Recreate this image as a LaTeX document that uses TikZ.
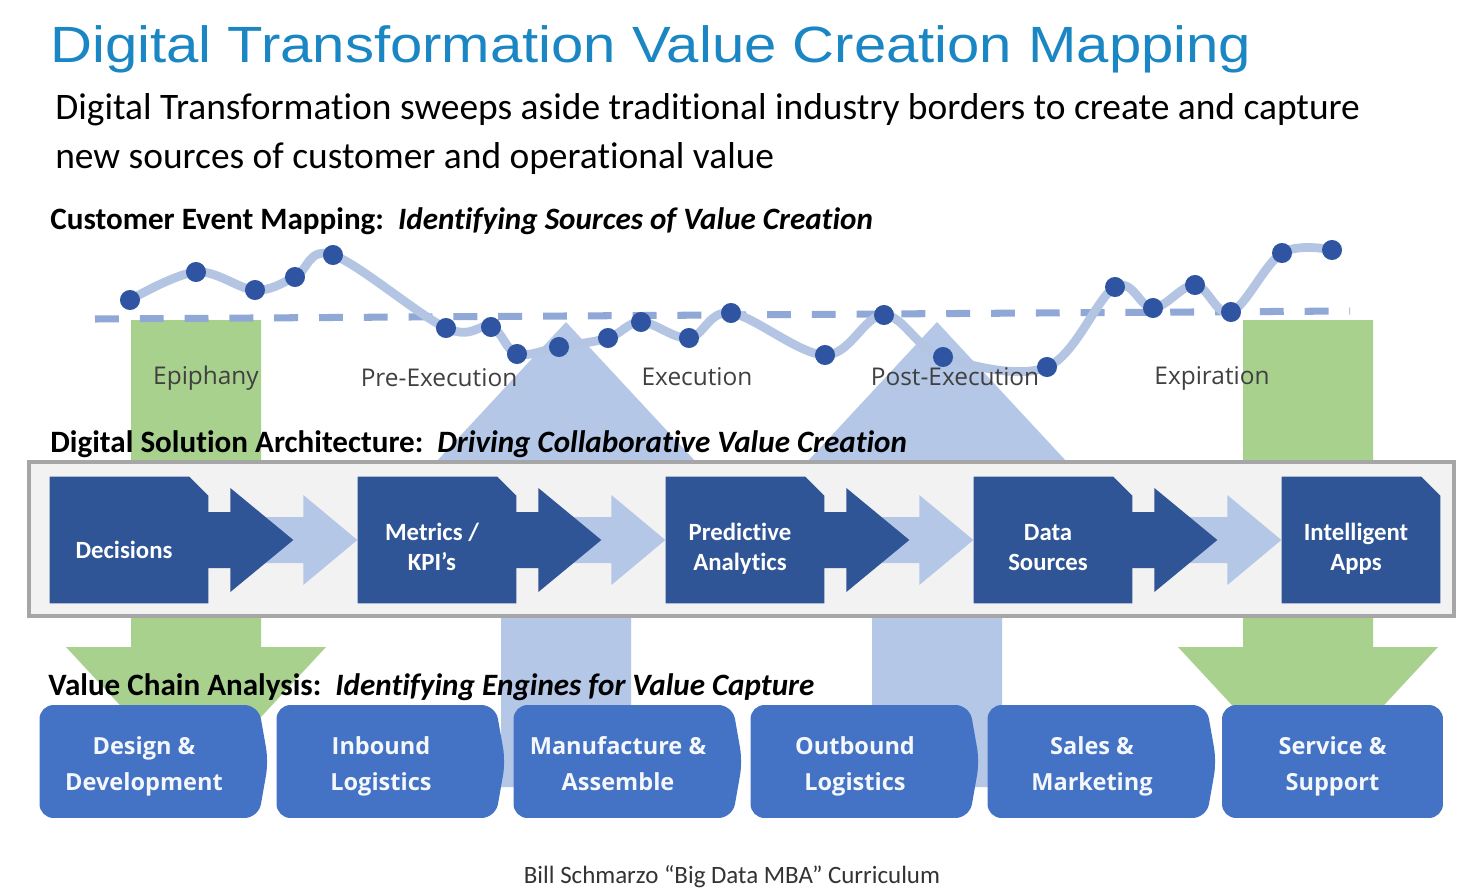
\documentclass[tikz,border=0pt]{standalone}
\usepackage{fontspec}
\setmainfont{Carlito}[Ligatures=CommonOff]
\newfontfamily\titlefont[FakeStretch=1.14]{Liberation Sans}
\newfontfamily\stagefont{Open Sans}
\usetikzlibrary{shapes.symbols}

\definecolor{titleblue}{HTML}{1A87C4}
\definecolor{dotblue}{HTML}{2F55A2}
\definecolor{curveblue}{HTML}{B4C5E4}
\definecolor{dashblue}{HTML}{8FA8D6}
\definecolor{arrowgreen}{HTML}{A9D18E}
\definecolor{arrowblue}{HTML}{B4C7E7}
\definecolor{solblue}{HTML}{2F5597}
\definecolor{chainblue}{HTML}{4472C4}
\definecolor{framegray}{HTML}{A6A6A6}
\definecolor{framefill}{HTML}{F2F2F2}
\definecolor{labelgray}{HTML}{404040}

\tikzset{
  solbox/.style={rectangle, inner sep=0pt, minimum width=3.16cm, minimum height=2.52cm},
  soltext/.style={text=white, align=center, inner sep=0pt,
    font=\bfseries\fontsize{14.1}{17}\selectfont},
  chainbox/.style={signal, signal to=east, signal pointer angle=160,
    rounded corners=8pt, fill=chainblue, inner sep=0pt,
    minimum width=4.58cm, minimum height=2.26cm},
  chaintext/.style={text=white!94!chainblue, align=center, inner sep=0pt,
    font=\stagefont\bfseries\fontsize{13.4}{20.4}\selectfont},
  stagelabel/.style={text=labelgray, font=\stagefont\fontsize{13.9}{16}\selectfont},
  header/.style={anchor=base west, inner sep=0pt, font=\bfseries\fontsize{17.7}{20}\selectfont},
  dot/.style={fill=dotblue, draw=none}
}

\begin{document}
\begin{tikzpicture}[x=0.02cm, y=-0.02cm]
    \fill[white] (0,0) rectangle (1477,892);
    \useasboundingbox (0,0) rectangle (1477,892);

    % Title and subtitle
    \node[anchor=base west, inner sep=0pt, text=titleblue, font=\titlefont\fontsize{29}{34}\selectfont]
        (title) at (50,63) {Digital Transformation Value Creation Mapping};
    \node[anchor=base west, inner sep=0pt, align=left, font=\fontsize{21.3}{27.8}\selectfont]
        (subtitle) at (55,168) {Digital Transformation sweeps aside traditional industry borders to create and capture\\new sources of customer and operational value};

    % Big arrows behind everything (green down, blue up)
    \foreach \cx in {196,1308}
        \fill[arrowgreen] ({\cx-65},320) -- ({\cx+65},320) -- ({\cx+65},647) -- ({\cx+130},647)
            -- (\cx,787) -- ({\cx-130},647) -- ({\cx-65},647) -- cycle;
    \foreach \cx in {566,937}
        \fill[arrowblue] ({\cx-65},787) -- ({\cx+65},787) -- ({\cx+65},462) -- ({\cx+130},462)
            -- (\cx,322) -- ({\cx-130},462) -- ({\cx-65},462) -- cycle;

    % Customer event curve
    \draw[dashblue, line width=4pt, dash pattern=on 13.6pt off 11.9pt] (95,319) -- (1350,311);
    \draw[curveblue, line width=5pt, line cap=round] plot[smooth, tension=0.6] coordinates {
        (130,300) (196,272) (255,290) (295,277) (333,255) (446,328) (491,327) (517,354)
        (559,347) (608,338) (641,322) (689,338) (731,313) (825,355) (884,315) (943,357)
        (1047,367) (1115,287) (1153,308) (1195,285) (1231,312) (1282,253) (1332,250)};
    \foreach \px/\py in {130/300,196/272,255/290,295/277,333/255,446/328,491/327,517/354,
        559/347,608/338,641/322,689/338,731/313,825/355,884/315,943/357,1047/367,
        1115/287,1153/308,1195/285,1231/312,1282/253,1332/250}
        \fill[dot] (\px,\py) circle[radius=5.7pt];

    % Stage labels
    \node[stagelabel] (epiphany) at (206,378) {Epiphany};
    \node[stagelabel] (preexec) at (439,378) {Pre-Execution};
    \node[stagelabel] (exec) at (697,377) {Execution};
    \node[stagelabel] (postexec) at (955,377) {Post-Execution};
    \node[stagelabel] (expir) at (1212,378) {Expiration};

    % Section headers
    \node[header] (cemhead) at (50,229) {Customer Event Mapping:\ \ \textit{Identifying Sources of Value Creation}};
    \node[header] (dsahead) at (50,452) {Digital Solution Architecture:\ \ \textit{Driving Collaborative Value Creation}};
    \node[header] (vcahead) at (48,695) {Value Chain Analysis:\ \ \textit{Identifying Engines for Value Capture}};

    % Solution architecture frame
    \draw[framegray, fill=framefill, line width=2.8pt] (29,462) rectangle (1454,616);

    % Snipped boxes
    \foreach \i in {0,...,4} {
        \node[solbox] (sol\i) at ({129+308*\i},540) {};
        \fill[solblue] (sol\i.south west) -- (sol\i.north west) -- ([shift={(-19,0)}]sol\i.north east)
            -- ([shift={(0,19)}]sol\i.north east) -- (sol\i.south east) -- cycle;
    }
    \foreach \i/\txt/\dy in {0/Decisions/18, 1/{Metrics /\\KPI’s}/30, 2/{Predictive\\Analytics}/30,
        3/{Data\\Sources}/30, 4/{Intelligent\\Apps}/30}
        \node[soltext, anchor=base] (soltxt\i) at ([shift={(-5,\dy)}]sol\i.center) {\txt};

    % Chevron arrows between the boxes
    \foreach \i in {0,...,3} {
        \begin{scope}[shift={(sol\i.east)}]
            \fill[arrowblue] (45,-23) -- (95,-23) -- (95,-45) -- (149,0) -- (95,45) -- (95,23) -- (45,23) -- cycle;
            \fill[solblue] (-2,-28) -- (22,-28) -- (22,-52) -- (85,0) -- (22,52) -- (22,28) -- (-2,28) -- cycle;
        \end{scope}
    }

    % Value chain
    \foreach \i in {1,...,5}
        \node[chainbox] (vc\i) at ({149+237*(\i-1)},761.5) {};
    \node[chainbox, rectangle, minimum width=4.42cm] (vc6) at (1332.5,761.5) {};
    \foreach \i/\txt/\dx in {1/{Design \&\\Development}/-5, 2/{Inbound\\Logistics}/-5,
        3/{Manufacture \&\\Assemble}/-5, 4/{Outbound\\Logistics}/-5,
        5/{Sales \&\\Marketing}/-5, 6/{Service \&\\Support}/0}
        \node[chaintext, anchor=base] (vctxt\i) at ([shift={(\dx,28.5)}]vc\i.center) {\txt};

    % Footer
    \node[anchor=base, text=labelgray!80!black, font=\fontsize{14.2}{16}\selectfont]
        (footer) at (732,883) {Bill Schmarzo “Big Data MBA” Curriculum};
\end{tikzpicture}
\end{document}
